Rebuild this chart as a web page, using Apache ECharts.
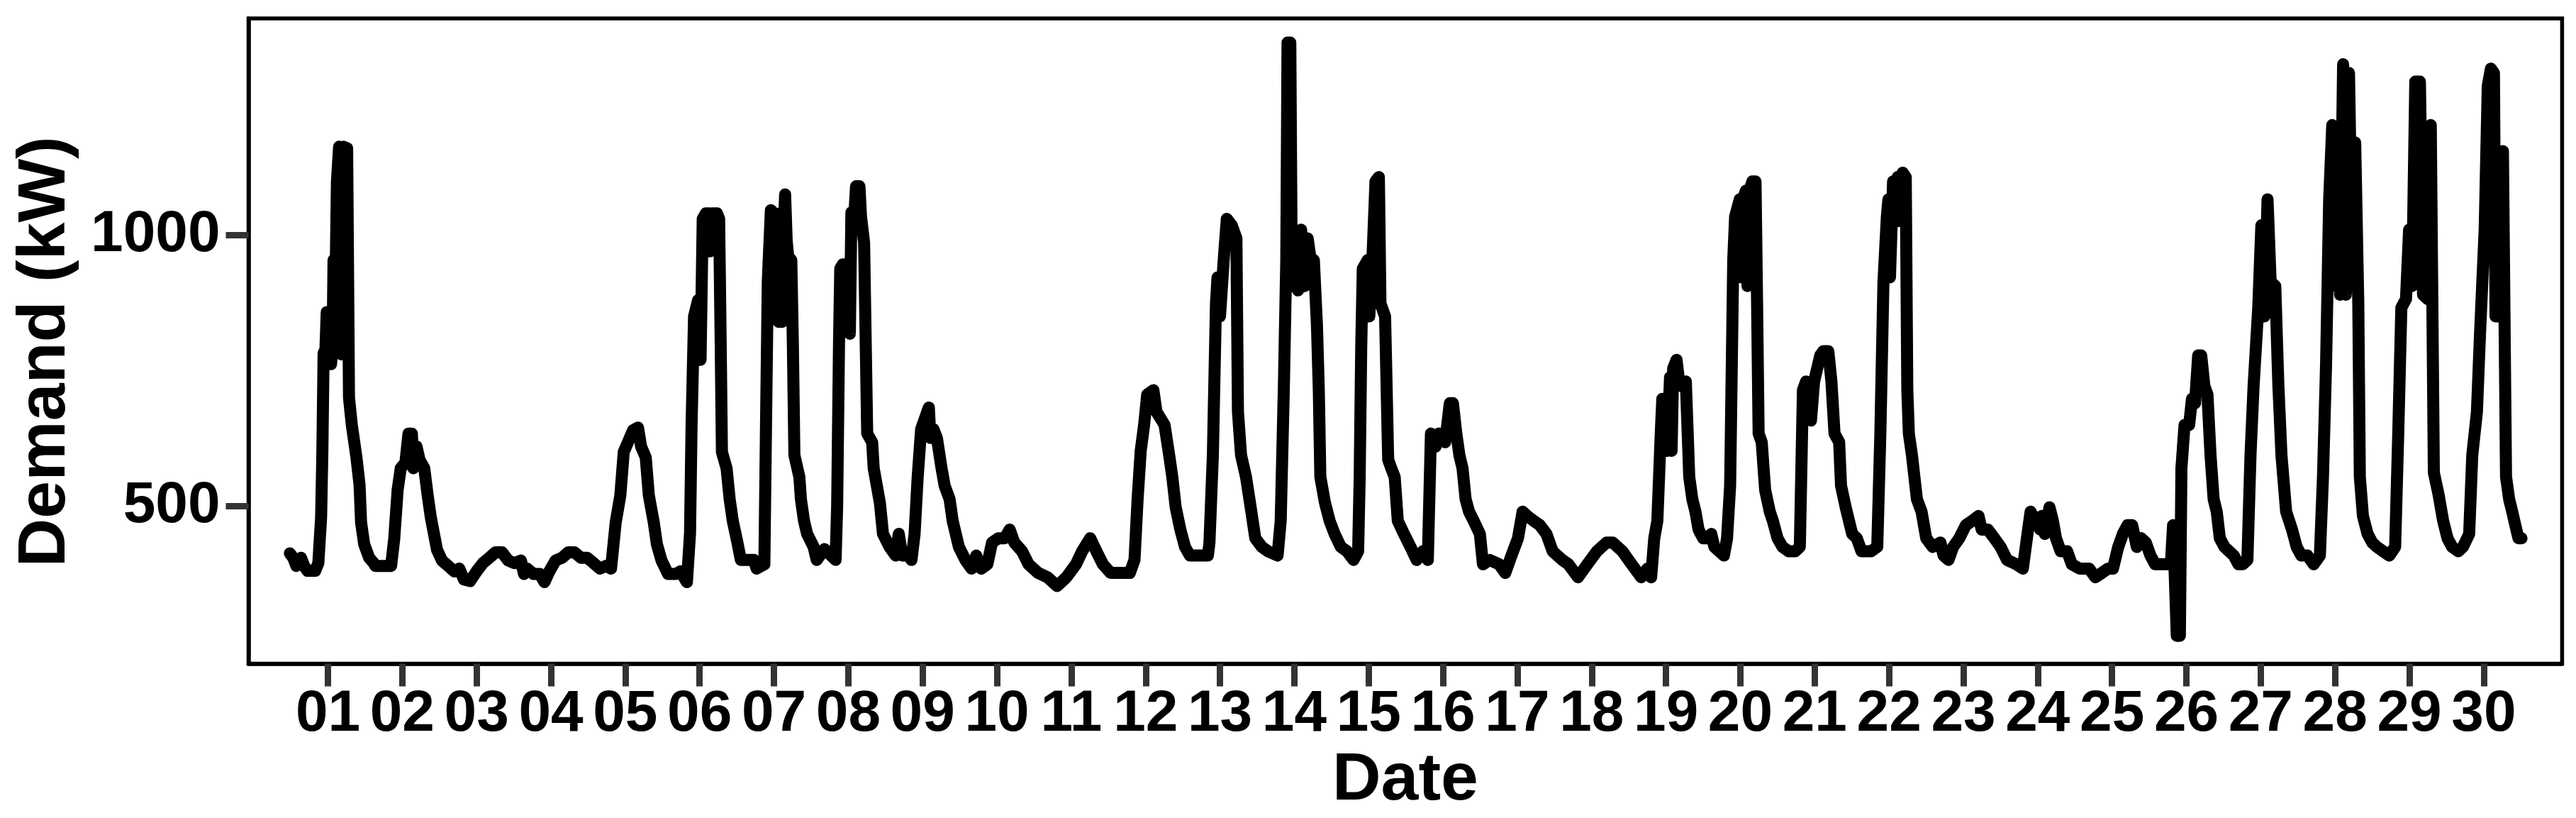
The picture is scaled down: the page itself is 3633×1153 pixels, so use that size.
<!DOCTYPE html>
<html>
<head>
<meta charset="utf-8">
<script src="https://cdn.jsdelivr.net/npm/echarts@6/dist/echarts.min.js"></script>
<style>
  html, body { margin: 0; padding: 0; background: #fff; }
  #chart { width: 3633px; height: 1153px; }
</style>
</head>
<body>
<div id="chart"></div>
<script>
// Tick labels (day of month); ticks sit at midnight of each day, hours counted from day 01 00:00
const dayLabels = ['01','02','03','04','05','06','07','08','09','10','11','12','13','14','15',
                   '16','17','18','19','20','21','22','23','24','25','26','27','28','29','30'];
const demandTicks = [500, 1000];

// Demand series: [hour since 01 00:00, demand kW]
const demandDays01to06 = [
  [-12.3,413],[-11.2,405],[-10.2,390],[-8.7,405],[-7.7,390],[-6.6,381],[-4.1,381],[-3.1,395],[-2.2,480],[-1.8,600],
  [-1.4,782],[-0.8,790],[-0.4,858],[0.6,858],[1.0,762],[1.5,800],[1.8,954],[2.5,930],[2.9,1099],[3.6,1163],
  [4.0,1163],[4.3,780],[4.6,1150],[5.0,1163],[6.2,1160],[6.8,700],[7.7,650],[9.2,590],[10.2,540],[10.7,470],
  [11.7,430],[13.3,405],[14.8,395],[15.3,390],[20.4,390],[21.4,440],[22.5,530],[23.5,570],[25,580],[26,634],
  [27.1,634],[27.6,570],[28.6,610],[29.6,585],[31.1,570],[32.2,520],[33.2,480],[34.2,450],[35.2,420],[36.8,400],
  [38.8,390],[40.8,380],[42.4,385],[43.9,365],[45.9,362],[48,380],[50,395],[52.1,405],[54.1,415],[56.2,415],
  [58.2,400],[60.2,395],[62.3,400],[63.3,375],[64.3,385],[66.4,375],[68.4,375],[69.9,360],[71.5,380],[73.5,400],
  [75.6,405],[77.6,415],[79.6,415],[81.7,405],[83.7,405],[85.8,395],[87.8,385],[89.8,390],[91.4,385],[92.9,470],
  [94.4,520],[95.5,600],[97,620],[98.5,640],[100.1,645],[101.1,610],[102.6,590],[103.6,520],[105.2,470],[106.2,430],
  [107.7,400],[109.8,375],[112.3,375],[113.8,380],[115.9,360],[116.9,450],[117.4,650],[118.2,850],[119.5,880],[119.7,770],
  [120.3,770],[121,1030],[122,1040],[123,1040],[123.3,970],[124,1040],[125.6,1040],[126.3,1030]
];
const demandDays06to12 = [
  [126.8,800],[127.2,600],[128.7,570],[129.7,513],[130.7,473],[132.2,433],[133.3,401],[137.5,401],[138.4,385],[140.9,393],
  [141.4,634],[142,914],[143,1046],[144,1040],[144.5,850],[145,1000],[145.5,840],[146,1040],[146.6,840],[147.1,1000],
  [147.6,1075],[148.1,990],[148.6,960],[149.6,954],[150.1,800],[150.6,594],[152.2,554],[152.7,513],[153.7,473],[154.7,449],
  [156.8,425],[157.8,401],[160.3,421],[163.9,401],[164.4,500],[165,800],[165.4,938],[166.2,946],[167,946],[167.5,830],
  [168,946],[168.5,818],[169,1042],[170,1042],[170.5,1090],[171.6,1090],[172.1,1034],[173.1,986],[174.1,634],[175.7,618],
  [176.2,570],[178.2,506],[179.2,449],[181.3,425],[183.3,409],[184.3,449],[185.4,409],[187.4,409],[188.4,401],[189.4,449],
  [190.4,554],[191.5,642],[193,666],[194,682],[194.5,626],[195.5,642],[196.6,626],[198.1,570],[199.1,538],[200.7,513],
  [201.7,473],[203.7,425],[205.8,401],[207.8,385],[209.3,409],[210.9,385],[212.9,393],[214.4,433],[216.5,441],[218.5,441],
  [220.1,457],[221.6,433],[224.1,417],[226.2,393],[229.3,377],[232.3,369],[235.4,353],[238.4,369],[241.5,393],[243.5,417],
  [246.1,441],[248.1,417],[250.2,393],[252.7,377],[258.9,377],[260.4,401],[261.4,513],[262.4,602],[263.5,650],[264.5,706],
  [266.5,714],[267.5,674],[270.1,650],[271.6,594],[272.6,554],[273.7,498],[275.2,457],[276.7,425],[278.3,409]
];
const demandDays12to18 = [
  [281.6,409],[284.1,409],[284.6,433],[285.7,594],[286.7,874],[287.2,922],[288,850],[289.2,954],[290.2,1030],[291.8,1018],
  [293.3,994],[293.8,674],[294.8,594],[296.4,554],[297.9,498],[299.4,441],[301.5,425],[303.5,417],[306.6,409],[307.6,473],
  [308.6,714],[309.4,954],[309.8,1355],[310.7,1355],[311.2,906],[312.2,1010],[313.2,898],[314.2,1010],[315.3,906],[316.3,994],
  [317.3,954],[318.3,954],[319.3,834],[319.9,714],[320.4,554],[321.9,506],[323.4,473],[325,449],[327,425],[329,417],
  [331.1,401],[332.6,417],[333.1,554],[333.6,794],[334.1,938],[335.7,954],[336.2,850],[337.2,954],[338.2,1099],[339.3,1107],
  [339.8,874],[341.3,850],[342.3,586],[343.3,570],[344.4,554],[345.4,473],[347.4,449],[349.5,425],[351.5,401],[353.5,417],
  [355.1,401],[356.1,634],[357.6,610],[358.7,634],[360.7,618],[362.2,690],[363.2,690],[364.3,634],[365.3,594],[366.3,570],
  [367.3,513],[368.4,490],[369.9,473],[371.9,449],[372.9,393],[375,401],[378.1,393],[380.1,377],[382.1,409],[384.2,441],
  [385.7,490],[387.2,482],[389.3,473],[391.3,465],[393.4,449],[395.4,417],[398.5,401],[400.5,393],[403.6,369],[406.6,393],
  [409.7,417],[412.8,433],[414.8,433],[417.9,417],[420.9,393],[424,369],[426,385],[427.2,369]
];
const demandDays18to24 = [
  [428.2,441],[429.2,473],[430.3,634],[430.8,698],[431.8,698],[432.3,602],[433.3,738],[433.8,602],[434.3,754],[435.4,770],
  [436.4,722],[438.4,730],[439.5,554],[440.5,513],[441.5,490],[442.5,457],[444,441],[445.6,441],[446.6,449],[447.6,425],
  [449.2,417],[450.7,409],[451.7,441],[452.7,538],[453.7,954],[454.3,1034],[455.8,1066],[456.3,922],[456.8,1066],[457.8,1082],
  [458.3,906],[458.9,1082],[459.9,1099],[460.9,1099],[461.4,874],[461.9,634],[462.9,618],[464,530],[465.5,490],[466.5,473],
  [468,441],[469.6,425],[471.6,417],[473.7,417],[475.2,425],[476.2,714],[477.2,730],[478.8,658],[479.8,730],[480.8,754],
  [481.8,778],[482.8,786],[484.4,786],[485.4,730],[486.4,634],[487.9,618],[488.5,538],[490,498],[492.1,449],[493.6,441],
  [495.1,417],[498.2,417],[500.2,425],[501.2,634],[502.2,914],[503.3,1034],[503.8,1066],[504.3,922],[505.3,1099],[506.3,1034],
  [506.8,1107],[507.4,1026],[508.4,1115],[509.4,1107],[509.9,714],[510.4,634],[511.4,594],[513,513],[514.5,490],[516,441],
  [518.1,425],[520.6,433],[521.6,409],[523.2,401],[524.7,425],[526.7,441],[528.8,465],[530.8,473],[532.9,482],[533.9,457],
  [535.9,457],[538,441],[540,425],[542.1,401],[545.1,393],[547.2,385],[548.7,449],[549.7,490],[551.3,473],[552.8,457],
  [553.3,482],[554.3,449],[555.8,498],[556.9,473],[557.9,441],[559.4,417],[561.5,417],[563,393],[565.5,385],[568.6,385],
  [570.6,369],[572.7,377],[574.7,385],[576.3,385]
];
const demandDays24to30 = [
  [578,425],[579.5,449],[581,465],[582.5,465],[584,425],[585.4,441],[586.9,433],[588.4,409],[589.9,393],[595,393],
  [595.7,465],[596.9,261],[597.9,261],[598.4,570],[599.4,650],[600.9,650],[601.8,698],[602.8,690],[603.8,778],[604.8,778],
  [605.8,722],[606.8,706],[607.8,594],[608.8,513],[609.8,490],[610.8,441],[612.3,425],[613.8,417],[615.3,409],[616.8,393],
  [618.2,393],[619.7,401],[620.7,594],[621.7,722],[623.2,866],[624.2,1018],[625.2,850],[626.2,1066],[627.2,914],[628.7,906],
  [629.7,722],[630.7,594],[632.2,490],[634.1,457],[635.6,425],[637.1,409],[639.1,409],[641.1,393],[643.1,409],[644.1,554],
  [645.1,762],[646.1,1066],[647.1,1203],[648.1,906],[649.1,1195],[649.6,890],[650.6,1315],[651.5,890],[652.5,1299],[653.5,954],
  [654.5,1171],[655.5,874],[656,554],[657,482],[658.5,449],[660,433],[661.5,425],[663.5,417],[665.5,409],[667.4,425],
  [668.4,634],[669.4,866],[670.9,882],[671.9,1010],[672.9,906],[673.9,1283],[675.4,1283],[676.4,890],[677.9,882],[678.9,1203],
  [679.9,562],[681.4,522],[682.9,473],[684.3,441],[685.8,425],[687.8,417],[689.3,425],[691.3,449],[692.3,594],[693.8,674],
  [694.8,818],[696.3,1010],[697.3,1275],[698.3,1307],[699.3,1299],[699.8,850],[700.7,850],[702.2,1155],[703.2,554],[704.2,513],
  [705.2,490],[706.2,465],[707.2,441],[708.2,441]
];

const demand = [].concat(demandDays01to06, demandDays06to12, demandDays12to18, demandDays18to24, demandDays24to30);
const tickHours = dayLabels.map((d, i) => i * 24);

const FONT = '"Liberation Sans", Arial, Helvetica, sans-serif';
const chart = echarts.init(document.getElementById('chart'), null, { renderer: 'canvas' });
chart.setOption({
  animation: false,
  backgroundColor: '#ffffff',
  grid: {
    show: true, left: 350.5, right: 19.6, top: 26, bottom: 215.5,
    borderColor: '#000000', borderWidth: 5.5, backgroundColor: 'transparent'
  },
  xAxis: {
    type: 'value', min: -25.64, max: 721.3,
    name: 'Date', nameLocation: 'middle', nameGap: 115.5,
    nameTextStyle: { fontFamily: FONT, fontWeight: 'bold', fontSize: 95, color: '#000' },
    axisLine: { show: true, onZero: false, lineStyle: { color: '#000000', width: 5.5 } },
    splitLine: { show: false },
    axisTick: { show: true, customValues: tickHours, length: 32, lineStyle: { color: '#333333', width: 9 } },
    axisLabel: {
      customValues: tickHours, margin: 30.5,
      formatter: v => dayLabels[Math.round(v / 24)],
      fontFamily: FONT, fontWeight: 'bold', fontSize: 82, color: '#000'
    }
  },
  yAxis: {
    type: 'value', min: 209.5, max: 1399.5,
    name: 'Demand (kW)', nameLocation: 'middle', nameGap: 238, nameRotate: 90,
    nameTextStyle: { fontFamily: FONT, fontWeight: 'bold', fontSize: 95, color: '#000', padding: [0, 30, 0, 0] },
    axisLine: { show: true, onZero: false, lineStyle: { color: '#000000', width: 5.5 } },
    splitLine: { show: false },
    axisTick: { show: true, customValues: demandTicks, length: 32, lineStyle: { color: '#333333', width: 9 } },
    axisLabel: {
      customValues: demandTicks, margin: 40,
      formatter: v => String(v),
      fontFamily: FONT, fontWeight: 'bold', fontSize: 82, color: '#000'
    }
  },
  series: [{
    type: 'line',
    data: demand,
    showSymbol: false,
    symbol: 'none',
    silent: true,
    clip: true,
    lineStyle: { color: '#000000', width: 17, cap: 'round', join: 'round' }
  }]
});
</script>
</body>
</html>
